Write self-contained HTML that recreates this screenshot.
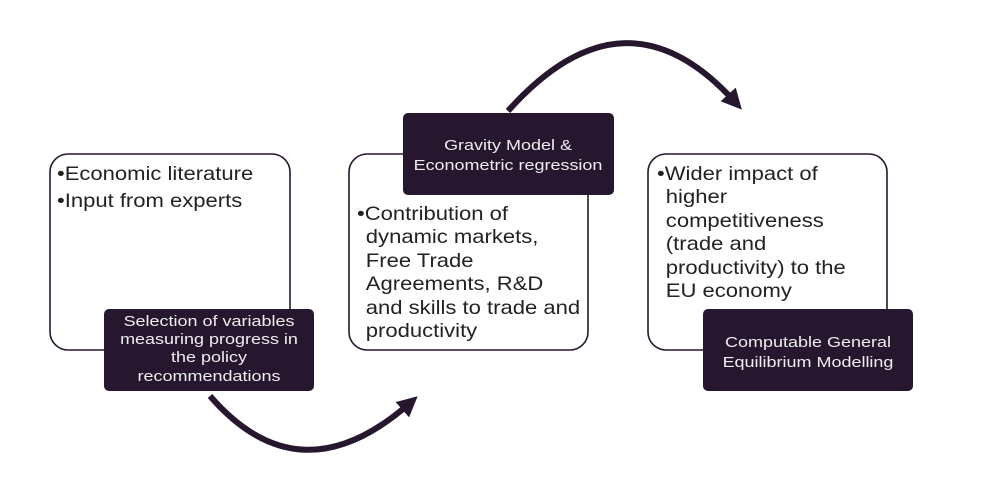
<!DOCTYPE html>
<html><head><meta charset="utf-8"><style>
html,body{margin:0;padding:0;background:#fff;}
svg{display:block;}
text{font-family:"Liberation Sans",Arial,sans-serif;}
</style></head><body>
<svg width="981" height="490" viewBox="0 0 981 490" xmlns="http://www.w3.org/2000/svg">
<defs>
<marker id="ah" markerWidth="3.4" markerHeight="3.4" refX="1.7" refY="1.7" orient="auto" markerUnits="strokeWidth">
<path d="M0,0 L3.4,1.7 L0,3.4 Z" fill="#26172f"/>
</marker>
</defs>
<g fill="#fff" stroke="#26172f" stroke-width="1.6">
<rect x="50" y="154" width="240" height="196" rx="18"/>
<rect x="349" y="154" width="239" height="196" rx="18"/>
<rect x="648" y="154" width="239" height="196" rx="18"/>
</g>
<g fill="#26172f">
<rect x="104" y="309" width="210" height="82" rx="5"/>
<rect x="403" y="113" width="211" height="82" rx="5"/>
<rect x="703" y="309" width="210" height="82" rx="5"/>
</g>
<g fill="none" stroke="#26172f" stroke-width="6">
<path d="M508,111 Q625,-20 735,102" marker-end="url(#ah)"/>
<path d="M210,396 Q300,500 410,403" marker-end="url(#ah)"/>
</g>
<g font-size="19" fill="#222">
<g transform="translate(57,0) scale(1.16,1)">
<text x="0" y="180">•Economic literature</text>
<text x="0" y="207">•Input from experts</text>
</g>
<g transform="translate(357,0) scale(1.16,1)">
<text x="0" y="220">•Contribution of</text>
<text x="7.6" y="243">dynamic markets,</text>
<text x="7.6" y="267">Free Trade</text>
<text x="7.6" y="290">Agreements, R&amp;D</text>
<text x="7.6" y="314">and skills to trade and</text>
<text x="7.6" y="337">productivity</text>
</g>
<g transform="translate(657,0) scale(1.16,1)">
<text x="0" y="180">•Wider impact of</text>
<text x="7.6" y="203">higher</text>
<text x="7.6" y="227">competitiveness</text>
<text x="7.6" y="250">(trade and</text>
<text x="7.6" y="274">productivity) to the</text>
<text x="7.6" y="297">EU economy</text>
</g>
</g>
<g font-size="15" fill="#eee" text-anchor="middle">
<g transform="translate(209,0) scale(1.2,1)">
<text x="0" y="326">Selection of variables</text>
<text x="0" y="344">measuring progress in</text>
<text x="0" y="362">the policy</text>
<text x="0" y="381">recommendations</text>
</g>
<g transform="translate(508,0) scale(1.2,1)">
<text x="0" y="150">Gravity Model &amp;</text>
<text x="0" y="170">Econometric regression</text>
</g>
<g transform="translate(808,0) scale(1.2,1)">
<text x="0" y="347">Computable General</text>
<text x="0" y="367">Equilibrium Modelling</text>
</g>
</g>
</svg>
</body></html>
